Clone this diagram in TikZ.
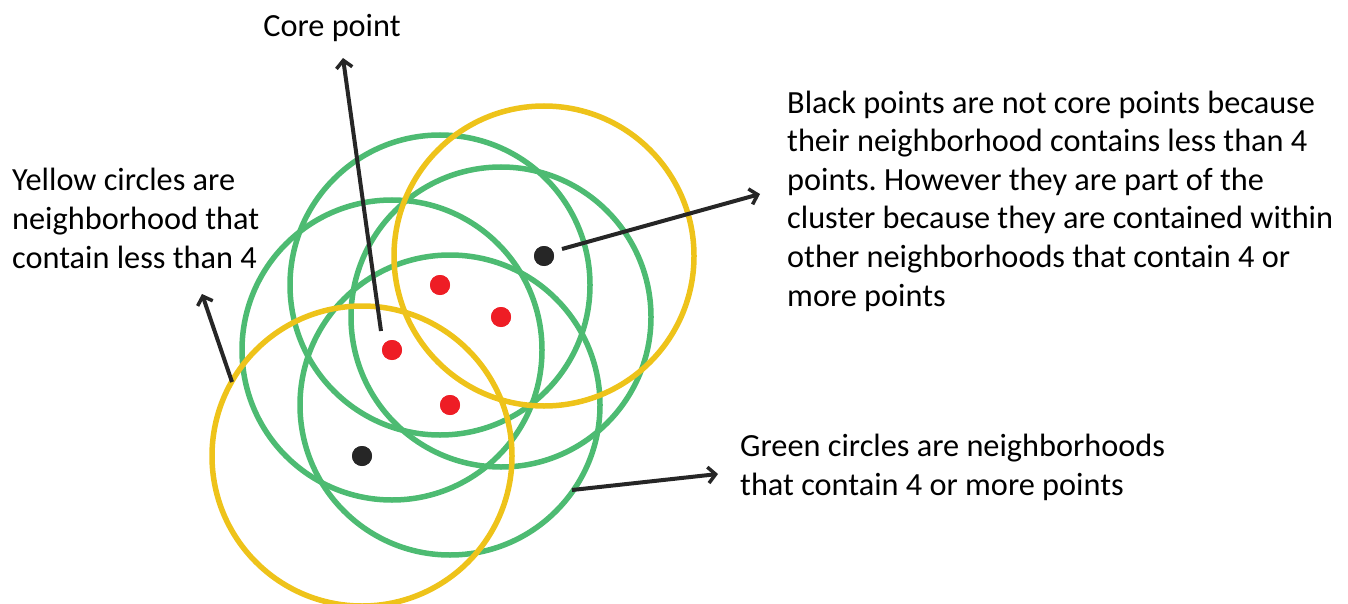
\documentclass[tikz,border=0pt]{standalone}
\usepackage{fontspec}
\setmainfont{Carlito}
\usetikzlibrary{arrows.meta}
\definecolor{cgreen}{HTML}{4DBB72}
\definecolor{cyellow}{HTML}{EEC31A}
\definecolor{cred}{HTML}{EE1D25}
\definecolor{cdark}{HTML}{262626}
\frenchspacing
\begin{document}
\begin{tikzpicture}[x=1pt,y=-1pt,
  greenring/.style={draw=cgreen,line width=5.5pt},
  yellowring/.style={draw=cyellow,line width=5.5pt},
  reddot/.style={circle,fill=cred,inner sep=0pt,minimum size=20pt},
  blackdot/.style={circle,fill=cdark,inner sep=0pt,minimum size=20pt},
  arr/.style={draw=cdark,line width=4pt,-{Straight Barb[length=7.5pt,width=16pt,line width=3.5pt]}},
  txt/.style={inner sep=0pt,font=\fontsize{32.3}{38.6}\selectfont,align=left,text=black}
]
\useasboundingbox (0,0) rectangle (1348,604);
% dots (nodes first for names)
\node[reddot] (r1) at (440,285) {};
\node[reddot] (r2) at (501,317) {};
\node[reddot] (r3) at (392,350) {};
\node[reddot] (r4) at (450,405) {};
\node[blackdot] (b1) at (544,256) {};
\node[blackdot] (b2) at (362,456) {};
% rings
\draw[greenring] (r1.center) circle[radius=150pt];
\draw[greenring] (r2.center) circle[radius=150pt];
\draw[greenring] (r3.center) circle[radius=150pt];
\draw[greenring] (r4.center) circle[radius=150pt];
\draw[yellowring] (b1.center) circle[radius=150pt];
\draw[yellowring] (b2.center) circle[radius=150pt];
% redraw dots on top
\node[reddot] at (r1) {};
\node[reddot] at (r2) {};
\node[reddot] at (r3) {};
\node[reddot] at (r4) {};
\node[blackdot] at (b1) {};
\node[blackdot] at (b2) {};
% texts (anchor base = baseline of last line)
\node[txt,anchor=base] (core) at (332,37) {Core point};
\node[txt,anchor=base west] (yel) at (12,268) {Yellow circles are\\neighborhood that\\contain less than 4};
\node[txt,anchor=base west] (blk) at (787,306) {Black points are not core points because\\their neighborhood contains less than 4\\points. However they are part of the\\cluster because they are contained within\\other neighborhoods that contain 4 or\\more points};
\node[txt,anchor=base west] (grn) at (740,495) {Green circles are neighborhoods\\that contain 4 or more points};
% arrows
\coordinate (cs) at (381,331);
\coordinate (ce) at (343,58);
\coordinate (ys) at (232,382);
\coordinate (ye) at (202,294);
\coordinate (bs) at (562,249);
\coordinate (be) at (760,194);
\coordinate (gs) at (572,490);
\coordinate (ge) at (718,474);
\draw[arr] (cs) -- (ce);
\draw[arr] (ys) -- (ye);
\draw[arr] (bs) -- (be);
\draw[arr] (gs) -- (ge);
\end{tikzpicture}
\end{document}
